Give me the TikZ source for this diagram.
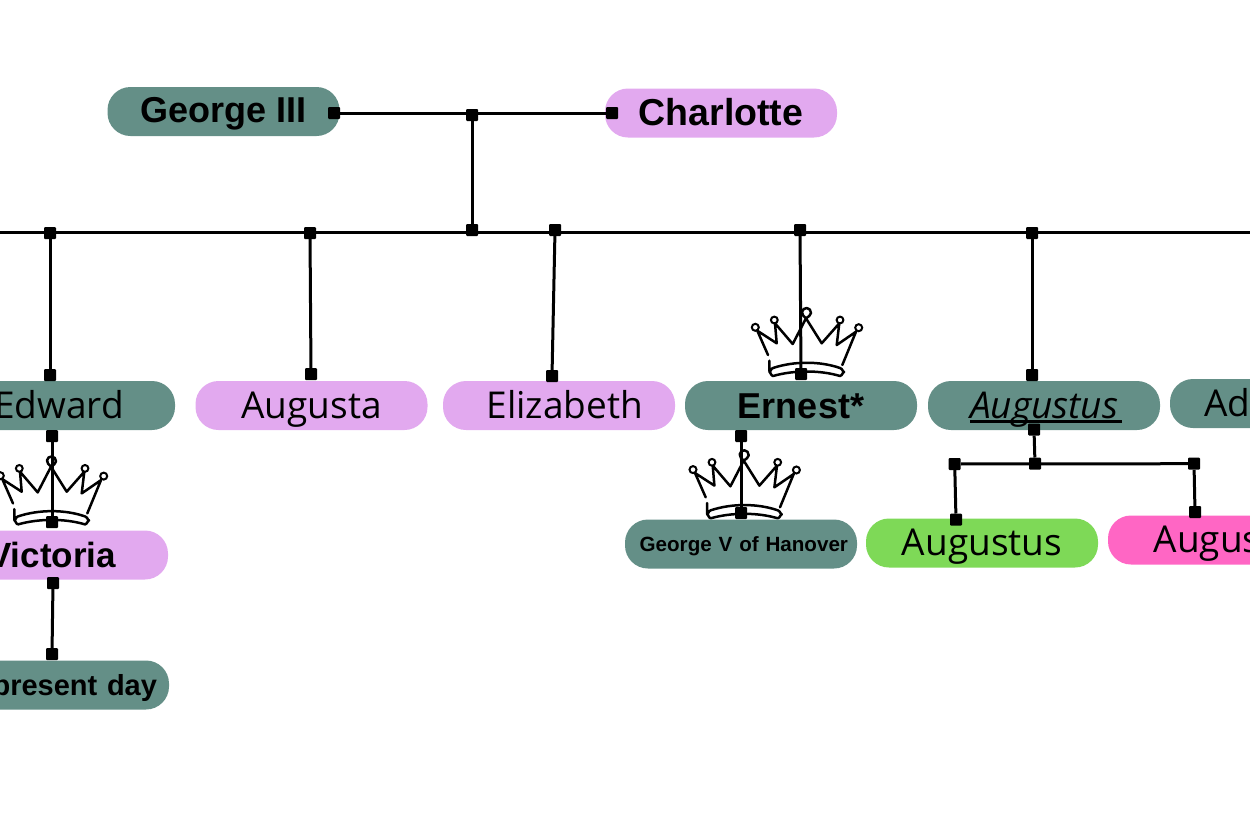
\documentclass[tikz,border=0pt]{standalone}
\usepackage{fontspec}
\setmainfont{Open Sans}
\newfontfamily\namefont{Liberation Sans}[BoldFont={Liberation Sans Bold}]
\usetikzlibrary{positioning}
\definecolor{tealbox}{HTML}{648F87}
\definecolor{lilacbox}{HTML}{E2A9EF}
\definecolor{greenbox}{HTML}{7ED957}
\definecolor{pinkbox}{HTML}{FF66C4}
\tikzset{
	person/.style={minimum width=232pt,minimum height=49pt,inner sep=0pt,rounded corners=23pt,text=black,text height=25pt,text depth=0pt,font=\fontsize{37}{40}\selectfont},
	royal/.style={person,fill=tealbox},
	lilac/.style={person,fill=lilacbox},
	bigname/.style={font=\fontsize{36}{40}\namefont\bfseries},
	dot/.style={fill=black,minimum size=12pt,inner sep=0pt,rounded corners=1pt},
	link/.style={line width=3pt},
	crown/.pic={
		\draw[line width=2.5pt,line cap=round,line join=round]
			(-38,-20) -- (-48.7,-44.3)
			(-48.7,-44.3) -- (-29.3,-31.7) -- (-31,-51.7) -- (-13.3,-31) -- (0,-56.7) -- (15.7,-31.7) -- (33.3,-51.7) -- (30.7,-30) -- (50,-43.3) -- (36.3,-10)
			(-36.7,-14.3) -- (-36.5,-3)
			(-33,1) .. controls (-12,-5) and (14,-5) .. (34,1) to[out=0,in=90] (38,-3) to[out=-90,in=0] (34,-7) .. controls (14,-14) and (-12,-14) .. (-33,-7) to[out=180,in=-90] (-36.5,-3) to[out=90,in=180] (-33,1)
			(0,-56.7) to[out=130,in=-100] (-4,-63) to[out=80,in=180] (0.7,-67) to[out=0,in=90] (5,-62) to[out=-90,in=45] (0,-56.7);
		\draw[line width=2pt,fill=white] (-50.7,-47.7) circle [radius=3.5];
		\draw[line width=2pt,fill=white] (-31.7,-55) circle [radius=3.4];
		\draw[line width=2pt,fill=white] (34,-55) circle [radius=3.4];
		\draw[line width=2pt,fill=white] (52.7,-47.3) circle [radius=3.5];
	}
}
\begin{document}
\begin{tikzpicture}[x=1pt,y=-1pt,on grid]
	\useasboundingbox (0,0) rectangle (1250,833);
	\clip (0,0) rectangle (1250,833);

	% crowns sit under the lines
	\pic at (806,375) {crown};
	\pic at (743.7,517.3) {crown};
	\pic at (51,523.4) {crown};

	% people
	\node [royal, bigname, text height=21pt] (george) at (223.5,111.5) {George III};
	\node [lilac, bigname, font=\fontsize{37.5}{40}\namefont\bfseries, below right=1.5pt and 497.5pt of george] (charlotte) {Charlotte};

	\node [royal] (edward) at (59,405.5) {Edward};
	\node [lilac, right=252.5pt of edward] (augusta) {Augusta};
	\node [lilac, right=247.5pt of augusta, text width=168pt, align=right] (elizabeth) {Elizabeth};
	\node [royal, bigname, right=242pt of elizabeth] (ernest) {Ernest*};
	\node [royal, right=243pt of ernest] (augustus) {\rlap{\rule[-5pt]{152pt}{2.6pt}}\textit{Augustus}};
	\node [royal, above right=2pt and 242pt of augustus] (adolphus) {Adolphus};

	\node [lilac, bigname, font=\fontsize{35}{40}\namefont\bfseries, below left=149.5pt and 7pt of edward] (victoria) {Victoria};
	\node [royal, below right=130pt and 1pt of victoria, text width=208pt, align=right, text height=20pt, font=\fontsize{29}{32}\namefont\bfseries] (present) {present day};

	\node [royal, below left=138.5pt and 60pt of ernest, text width=214pt, align=right, text height=14pt, font=\fontsize{20.6}{24}\namefont\bfseries] (georgev) {George V of Hanover};
	\node [person, fill=greenbox, above right=1pt and 241pt of georgev] (augustusjr) {Augustus};
	\node [person, fill=pinkbox, above right=3pt and 242pt of augustusjr] (augustajr) {Augusta};

	% line ends off the page
	\coordinate (left) at (-5,232);
	\coordinate (right) at (1255,232);

	% squares on the lines
	\node [dot] (g1) at (334,113) {};
	\node [dot] (c1) at (612,113) {};
	\node [dot] (m1) at (472,115) {};
	\node [dot] (m2) at (472,230) {};

	\node [dot] (a1) at (50,233) {};
	\node [dot] (a2) at (310,233) {};
	\node [dot] (a3) at (555,230) {};
	\node [dot] (a4) at (800,230) {};
	\node [dot] (a5) at (1032,233) {};

	\node [dot] (b1) at (50,375) {};
	\node [dot] (b2) at (311,374) {};
	\node [dot] (b3) at (552,376) {};
	\node [dot] (b4) at (801,374) {};
	\node [dot] (b5) at (1032,375) {};

	\node [dot] (e1) at (52,436) {};
	\node [dot] (v1) at (52,522) {};
	\node [dot] (v2) at (53,583) {};
	\node [dot] (p1) at (52,654) {};

	\node [dot] (h1) at (741,436) {};
	\node [dot] (h2) at (741,513) {};

	\node [dot] (s1) at (1034,429.5) {};
	\node [dot] (s2) at (1035,463.7) {};
	\node [dot] (s3) at (954.7,464) {};
	\node [dot] (s4) at (1194,463.7) {};
	\node [dot] (s5) at (956,519.7) {};
	\node [dot] (s6) at (1195,512) {};

	\draw [link] (g1) -- (c1);
	\draw [link] (m1) -- (m2);
	\draw [link] (left) -- (right);
	\draw [link] (a1) -- (b1);
	\draw [link] (a2) -- (b2);
	\draw [link] (a3) -- (b3);
	\draw [link] (a4) -- (b4);
	\draw [link] (a5) -- (b5);
	\draw [link] (e1) -- (v1);
	\draw [link] (v2) -- (p1);
	\draw [link] (h1) -- (h2);
	\draw [link] (s1) -- (s2);
	\draw [link] (s3) -- (s4);
	\draw [link] (s3) -- (s5);
	\draw [link] (s4) -- (s6);
\end{tikzpicture}
\end{document}
